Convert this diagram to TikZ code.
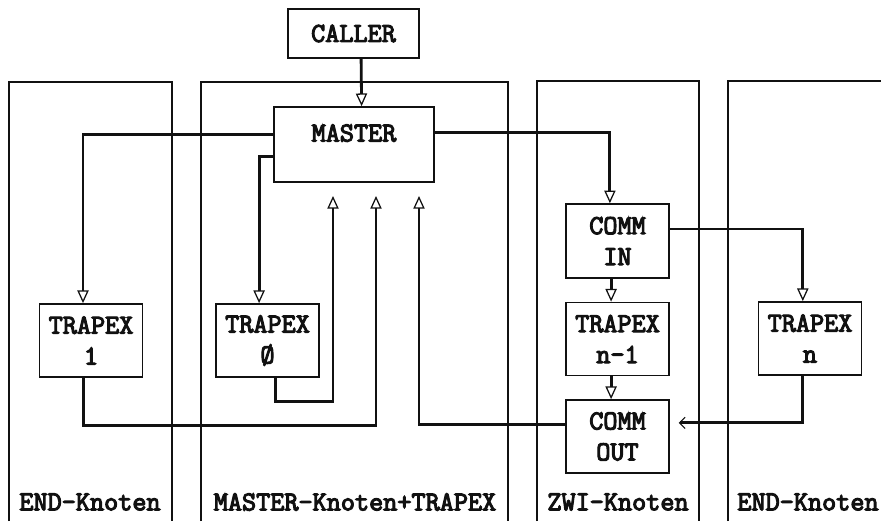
\documentclass[tikz,border=0pt]{standalone}
\usepackage{fontspec}
\newfontfamily\boxfont{Latin Modern Mono}[FakeBold=4]
\usetikzlibrary{arrows.meta}
\definecolor{ink}{HTML}{111111}

\begin{document}
\begin{tikzpicture}[x=0.025cm,y=-0.025cm,
    font=\boxfont\fontsize{19.5}{22}\selectfont,text=ink,
    box/.style={draw=ink,line width=1.1pt,fill=white,align=center,inner sep=2pt,
      minimum width=2.58cm,minimum height=1.83cm},
    lane/.style={draw=ink,line width=0.9pt},
    flow/.style={draw=ink,line width=2pt,
      -{Triangle[open,line width=0.9pt,length=9pt,width=8pt]}},
    lanelabel/.style={inner sep=0pt}]
  \useasboundingbox (0,0) rectangle (881,521);
  \draw[lane] (9,521) |- (172,82) -- (172,521);
  \draw[lane] (201,521) |- (508,82) -- (508,521);
  \draw[lane] (537,521) |- (699,81) -- (699,521);
  \draw[lane] (728,521) |- (881,81);
  \node[lanelabel] (endleft) at (90,502) {END-Knoten};
  \node[lanelabel] (masterlane) at (355,502) {MASTER-Knoten+TRAPEX};
  \node[lanelabel] (zwilane) at (618,502) {ZWI-Knoten};
  \node[lanelabel] (endright) at (808,502) {END-Knoten};
  \node[box,minimum width=3.28cm,minimum height=1.23cm] (caller) at (353.5,33.5) {CALLER};
  \node[box,minimum width=4cm,minimum height=1.88cm,text depth=0.58cm] (master) at (354,144.5) {MASTER};
  \node[box] (trapex1) at (91,340.5) {TRAPEX\\1};
  \node[box] (trapex0) at (267.5,340.5) {TRAPEX\\Ø};
  \node[box,minimum height=1.85cm] (commin) at (617.5,241) {COMM\\IN};
  \node[box] (trapexn1) at (617.5,339) {TRAPEX\\n-1};
  \node[box] (commout) at (617.5,436.5) {COMM\\ OUT};
  \node[box] (trapexn) at (810,338.5) {TRAPEX\\n};
  \coordinate (up0) at (333,196);
  \coordinate (up1) at (376,196);
  \coordinate (up2) at (419,196);
  \draw[flow] ([xshift=0.19cm]caller.south) -- ([xshift=0.19cm]master.north);
  \draw[flow] ([yshift=0.26cm]master.west) -| ([xshift=-0.2cm]trapex1.north);
  \draw[flow] ([yshift=-0.29cm]master.west) -| ([xshift=-0.21cm]trapex0.north);
  \draw[flow] ([yshift=0.31cm]master.east) -| ([xshift=-0.19cm]commin.north);
  \draw[flow] ([yshift=0.3cm]commin.east) -| ([xshift=-0.18cm]trapexn.north);
  \draw[flow] ([xshift=-0.16cm]commin.south) -- ([xshift=-0.16cm]trapexn1.north);
  \draw[flow] ([xshift=-0.16cm]trapexn1.south) -- ([xshift=-0.16cm]commout.north);
  \draw[flow,-{Straight Barb[line width=0.8pt,length=4pt,width=8pt]},shorten >=0.22cm]
    ([xshift=-0.18cm]trapexn.south) |- ([yshift=0.34cm]commout.east);
  \draw[flow] ([xshift=0.19cm]trapex0.south) -- ++(0,-0.6cm) -| (up0);
  \draw[flow] ([xshift=-0.18cm]trapex1.south) -- ++(0,-1.2cm) -| (up1);
  \draw[flow] ([yshift=0.31cm]commout.west) -| (up2);
\end{tikzpicture}
\end{document}
